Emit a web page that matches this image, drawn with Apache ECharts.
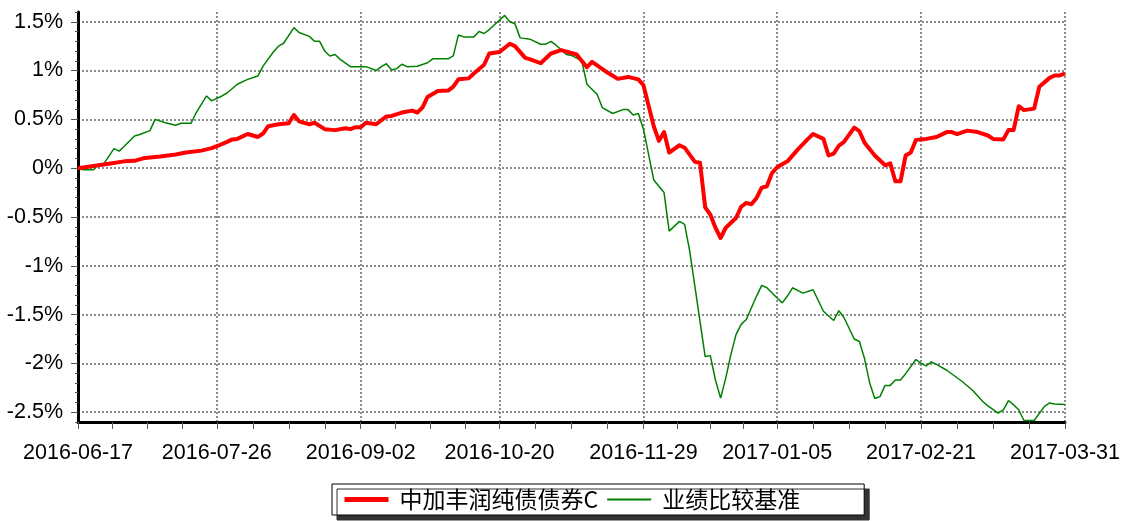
<!DOCTYPE html>
<html>
<head>
<meta charset="utf-8">
<script src="https://cdn.jsdelivr.net/npm/echarts@6.0.0/dist/echarts.min.js"></script>
<style>
  html, body { margin: 0; padding: 0; background: #fff; }
  #chart { width: 1123px; height: 521px; }
</style>
</head>
<body>
<div id="chart"></div>
<script>
// 横轴：交易日序号，刻度标签
var tickDays = [0, 27, 55, 82, 110, 136, 164, 192];
var tickLabels = ['2016-06-17', '2016-07-26', '2016-09-02', '2016-10-20', '2016-11-29', '2017-01-05', '2017-02-21', '2017-03-31'];
var yTicks = [-2.5, -2, -1.5, -1, -0.5, 0, 0.5, 1, 1.5];

var seriesNames = ['中加丰润纯债债券C', '业绩比较基准'];

// 中加丰润纯债债券C 累计收益(%)
var fundDays = [0, 4, 6, 9, 11, 13, 16, 19, 21, 24, 26, 27, 29, 30, 31, 33, 35, 36, 37, 39,
    41, 42, 43, 45, 46, 48, 50, 52, 53, 54, 55, 56, 58, 60, 61, 63, 65, 66, 67, 68,
    70, 72, 73, 74, 76, 77, 79, 80, 82, 84, 85, 87, 88, 90, 92, 94, 97, 99, 100, 103,
    105, 107, 109, 110, 112, 113, 114, 115, 117, 118, 120, 121, 122, 123, 124, 125, 126, 128, 129, 130,
    131, 132, 133, 134, 135, 136, 138, 140, 142, 143, 145, 146, 147, 148, 149, 151, 152, 153, 155, 157,
    158, 159, 160, 161, 162, 163, 165, 167, 169, 170, 171, 173, 175, 177, 178, 180, 181, 182, 183, 184,
    186, 187, 189, 190, 191, 192];
var fundValues = [0, 0.03, 0.045, 0.07, 0.075, 0.105, 0.12, 0.14, 0.16, 0.18, 0.205, 0.225, 0.27, 0.295, 0.30, 0.35, 0.32, 0.355, 0.43, 0.45,
    0.46, 0.545, 0.48, 0.45, 0.465, 0.40, 0.39, 0.41, 0.40, 0.42, 0.42, 0.465, 0.45, 0.53, 0.535, 0.57, 0.59, 0.57, 0.62, 0.73,
    0.79, 0.795, 0.835, 0.91, 0.92, 0.97, 1.06, 1.175, 1.19, 1.275, 1.25, 1.13, 1.115, 1.075, 1.175, 1.21, 1.165, 1.035, 1.09, 0.98,
    0.915, 0.935, 0.91, 0.85, 0.43, 0.28, 0.37, 0.16, 0.235, 0.21, 0.065, 0.055, -0.40, -0.475, -0.61, -0.715, -0.61, -0.51, -0.395, -0.355,
    -0.37, -0.305, -0.20, -0.185, -0.05, 0.01, 0.07, 0.19, 0.30, 0.35, 0.30, 0.13, 0.15, 0.23, 0.27, 0.415, 0.38, 0.26, 0.13, 0.03,
    0.05, -0.135, -0.135, 0.13, 0.16, 0.29, 0.30, 0.32, 0.37, 0.37, 0.35, 0.385, 0.37, 0.335, 0.30, 0.295, 0.39, 0.39, 0.635, 0.595,
    0.61, 0.835, 0.925, 0.95, 0.95, 0.97];

// 业绩比较基准 累计收益(%)
var benchDays = [0, 1, 3, 4, 5, 7, 8, 9, 11, 12, 14, 15, 17, 19, 20, 22, 23, 25, 26, 28,
    29, 31, 33, 35, 36, 38, 39, 40, 42, 43, 45, 46, 47, 48, 49, 50, 51, 53, 56, 58,
    59, 60, 61, 62, 63, 64, 66, 68, 69, 72, 73, 74, 75, 77, 78, 79, 80, 83, 84, 85,
    86, 88, 90, 91, 92, 93, 95, 96, 98, 99, 101, 102, 104, 106, 107, 108, 109, 110, 112, 114,
    115, 117, 118, 119, 120, 122, 123, 124, 125, 126, 127, 128, 129, 130, 132, 133, 134, 136, 137, 138,
    139, 141, 143, 145, 147, 148, 149, 151, 152, 153, 154, 155, 156, 157, 158, 159, 160, 161, 163, 164,
    165, 166, 167, 169, 172, 174, 176, 177, 179, 180, 181, 182, 183, 184, 186, 188, 189, 190, 192];
var benchValues = [0, -0.015, -0.015, 0.04, 0.045, 0.20, 0.175, 0.225, 0.33, 0.345, 0.385, 0.50, 0.465, 0.44, 0.46, 0.46, 0.57, 0.74, 0.69, 0.74,
    0.77, 0.86, 0.91, 0.945, 1.045, 1.19, 1.25, 1.28, 1.44, 1.39, 1.35, 1.30, 1.30, 1.20, 1.15, 1.165, 1.115, 1.04, 1.04, 1.00,
    1.04, 1.07, 1.005, 1.02, 1.065, 1.04, 1.045, 1.08, 1.12, 1.12, 1.15, 1.365, 1.345, 1.345, 1.40, 1.38, 1.42, 1.565, 1.50, 1.48,
    1.335, 1.32, 1.27, 1.27, 1.30, 1.26, 1.165, 1.155, 1.10, 0.86, 0.755, 0.62, 0.56, 0.60, 0.60, 0.545, 0.56, 0.40, -0.12, -0.25,
    -0.645, -0.545, -0.575, -0.85, -1.21, -1.93, -1.92, -2.17, -2.355, -2.15, -1.91, -1.705, -1.60, -1.55, -1.31, -1.20, -1.225, -1.33, -1.38, -1.31,
    -1.225, -1.28, -1.245, -1.465, -1.56, -1.46, -1.53, -1.75, -1.775, -1.95, -2.20, -2.36, -2.34, -2.225, -2.225, -2.17, -2.17, -2.105, -1.96, -2.00,
    -2.025, -1.985, -2.01, -2.07, -2.185, -2.275, -2.39, -2.435, -2.51, -2.475, -2.38, -2.425, -2.475, -2.585, -2.585, -2.44, -2.405, -2.415, -2.42];

function pairs(days, values) {
    return days.map(function (d, i) { return [d, values[i]]; });
}

// 每段主刻度之间四等分的小刻度
var minorDays = [];
for (var i = 0; i < tickDays.length - 1; i++) {
    var step = (tickDays[i + 1] - tickDays[i]) / 4;
    for (var k = 1; k < 4; k++) minorDays.push(tickDays[i] + step * k);
}

var latin = 'Liberation Sans, Arial, sans-serif';
var cjk = 'Noto Sans CJK SC, sans-serif';
var gridLine = { color: '#8c8c8c', width: 2, type: [2, 2] };

var chart = echarts.init(document.getElementById('chart'));
var option = {
    backgroundColor: '#fff',
    animation: false,
    grid: { left: 78, right: 57, top: 12, bottom: 99, containLabel: false },
    legend: {
        data: [
            { name: seriesNames[0], lineStyle: { width: 5 } },
            { name: seriesNames[1], lineStyle: { width: 2 } }
        ],
        left: 332,
        top: 484,
        orient: 'horizontal',
        itemWidth: 44,
        itemHeight: 14,
        itemGap: 8,
        padding: [4, 64, 4, 10],
        borderColor: '#000',
        borderWidth: 1,
        backgroundColor: '#fff',
        shadowColor: '#333',
        shadowBlur: 0,
        shadowOffsetX: 5,
        shadowOffsetY: 5,
        // 图例只画线，不画圆点
        itemStyle: { opacity: 0 },
        textStyle: { fontFamily: cjk, fontSize: 23, color: '#000', padding: [0, 0, 0, 6] }
    },
    xAxis: [{
        type: 'value',
        min: 0,
        max: 192,
        axisLine: { onZero: false, lineStyle: { color: '#000', width: 3 } },
        axisTick: { customValues: tickDays, length: 7, lineStyle: { color: '#555', width: 1 } },
        axisLabel: {
            customValues: tickDays,
            margin: 20,
            color: '#000',
            fontFamily: latin,
            fontSize: 21.5,
            formatter: function (v) { return tickLabels[tickDays.indexOf(v)]; }
        },
        splitLine: { show: true, lineStyle: gridLine }
    }, {
        type: 'value',
        min: 0,
        max: 192,
        position: 'bottom',
        axisLine: { show: false, onZero: false },
        axisTick: { customValues: minorDays, length: 7, lineStyle: { color: '#555', width: 1 } },
        axisLabel: { show: false },
        splitLine: { show: false }
    }],
    yAxis: [{
        type: 'value',
        min: -2.6,
        max: 1.6,
        axisLine: { show: true, onZero: false, lineStyle: { color: '#000', width: 3 } },
        axisTick: { show: true, customValues: yTicks, length: 7, lineStyle: { color: '#555', width: 1 } },
        axisLabel: {
            customValues: yTicks,
            margin: 15,
            color: '#000',
            fontFamily: latin,
            fontSize: 21.5,
            formatter: function (v) { return v + '%'; }
        },
        splitLine: { show: true, lineStyle: gridLine }
    }, {
        type: 'value',
        min: -2.6,
        max: 1.6,
        interval: 0.1,
        position: 'left',
        axisLine: { show: false, onZero: false },
        axisTick: { show: true, length: 3, lineStyle: { color: '#555', width: 1 } },
        axisLabel: { show: false },
        splitLine: { show: false }
    }],
    series: [{
        name: seriesNames[0],
        type: 'line',
        data: pairs(fundDays, fundValues),
        symbol: 'none',
        z: 4,
        lineStyle: { color: '#ff0000', width: 4, join: 'round' },
        itemStyle: { color: '#ff0000' }
    }, {
        name: seriesNames[1],
        type: 'line',
        data: pairs(benchDays, benchValues),
        symbol: 'none',
        z: 3,
        lineStyle: { color: '#008000', width: 1.5 },
        itemStyle: { color: '#008000' }
    }]
};
chart.setOption(option);
</script>
</body>
</html>
